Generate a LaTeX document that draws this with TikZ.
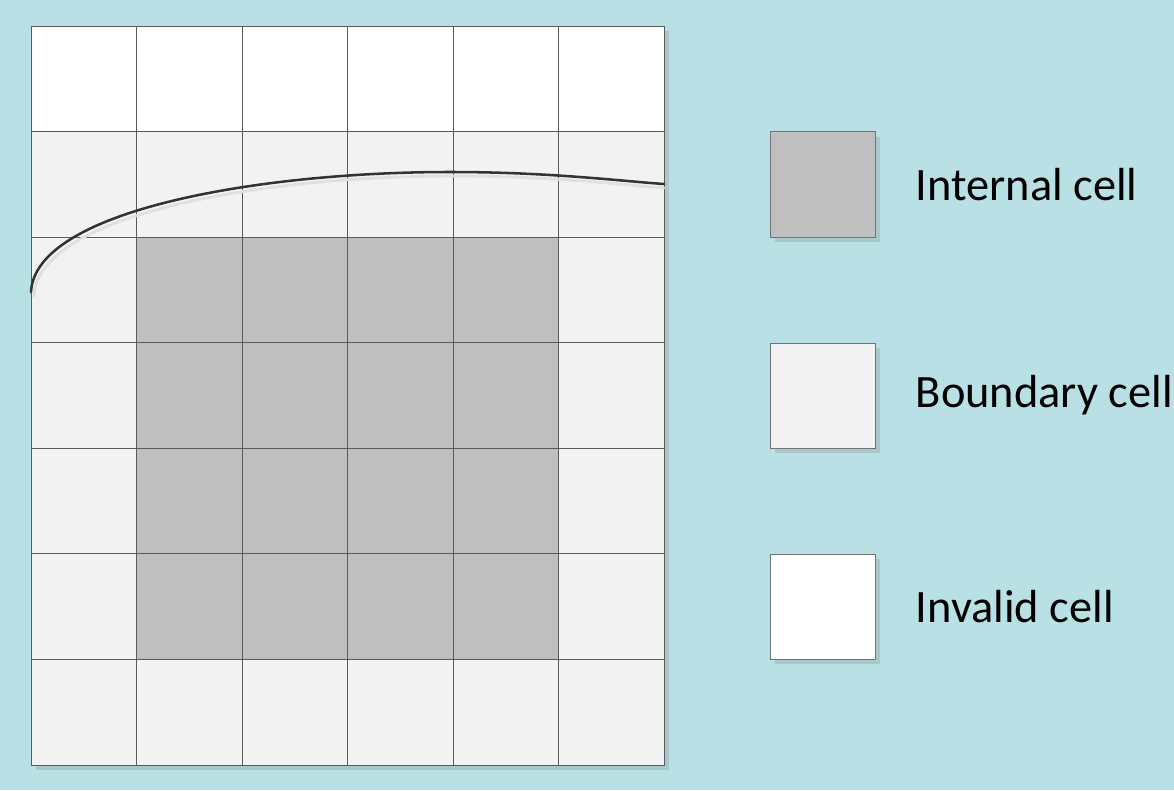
\documentclass[tikz,border=0pt]{standalone}
\usepackage{fontspec}
\setmainfont{Carlito}
\usetikzlibrary{positioning,calc}
\definecolor{bgcol}{RGB}{185,224,228}
\definecolor{shadowcol}{RGB}{168,200,204}
\definecolor{bndcol}{RGB}{242,242,242}
\definecolor{intcol}{RGB}{191,191,191}
\definecolor{gridcol}{RGB}{90,90,90}
\tikzset{
  gcell/.style={draw=gridcol, line width=0.7pt},
  keybox/.style={draw=gray!90!black, line width=0.7pt, minimum width=2.625cm, minimum height=2.625cm, inner sep=0pt},
  keyshadow/.style={fill=shadowcol, draw=none, minimum width=2.625cm, minimum height=2.625cm, inner sep=0pt},
  keytext/.style={anchor=west, font=\fontsize{33}{39}\selectfont, inner sep=0pt},
  wall/.style={draw=black!80, line width=1.8pt, line cap=round},
  wallshadow/.style={draw=black!12, line width=2pt, line cap=round},
}
\begin{document}
\begin{tikzpicture}[x=0.025cm, y=-0.025cm]
  \fill[bgcol] (0,0) rectangle (1174,790);
  \useasboundingbox (0,0) rectangle (1174,790);

  % grid shadow
  \fill[shadowcol] (36,31) rectangle (669,770);

  % cells: row 0 invalid, rows 1-6 boundary, inner 4x4 internal
  \foreach \r in {0,...,6}{
    \foreach \c in {0,...,5}{
      \pgfmathsetmacro{\xa}{31+105.5*\c}
      \pgfmathsetmacro{\ya}{26+105.57*\r}
      \ifnum\r=0
        \def\cellfill{white}
      \else
        \def\cellfill{bndcol}
      \fi
      \ifnum\r>1 \ifnum\r<6 \ifnum\c>0 \ifnum\c<5
        \def\cellfill{intcol}
      \fi\fi\fi\fi
      \filldraw[gcell, fill=\cellfill] (\xa,\ya) rectangle ++(105.5,105.57);
    }
  }

  % boundary curve
  \draw[wallshadow] (34,296) .. controls (38,214) and (263,176) .. (453,176)
    .. controls (553,176) and (623,185) .. (664,188);
  \draw[wall] (31,292) .. controls (35,210) and (260,172) .. (450,172)
    .. controls (550,172) and (620,181) .. (664,184);

  % legend
  \node[keyshadow] at (827.5,189.5) {};
  \node[keybox, fill=intcol] (kint) at (822.5,184.5) {};
  \node[keyshadow] at (827.5,400.5) {};
  \node[keybox, fill=bndcol] (kbnd) at (822.5,395.5) {};
  \node[keyshadow] at (827.5,611.5) {};
  \node[keybox, fill=white] (kinv) at (822.5,606.5) {};

  \node[keytext, right=1cm of kint] (tint) {Internal cell};
  \node[keytext, right=1cm of kbnd] (tbnd) {Boundary cell};
  \node[keytext, right=1cm of kinv] (tinv) {Invalid cell};
\end{tikzpicture}
\end{document}
